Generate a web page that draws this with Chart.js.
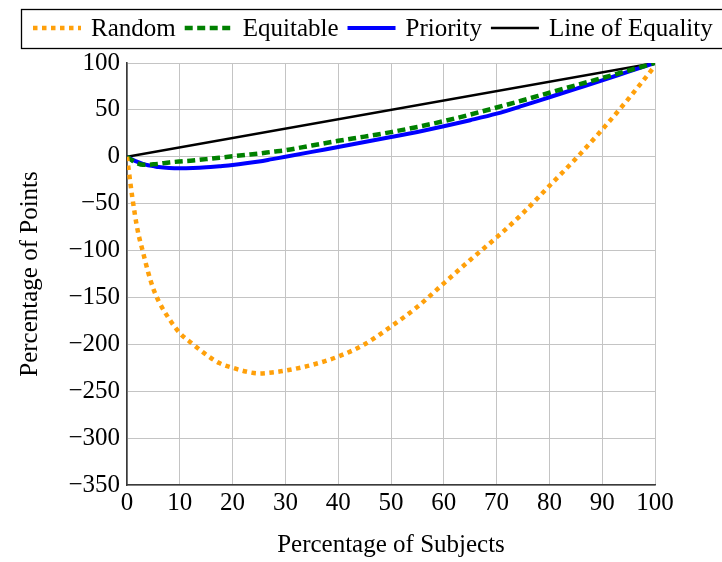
<!DOCTYPE html>
<html>
<head>
<meta charset="utf-8">
<script src="https://cdn.jsdelivr.net/npm/chart.js@4.4.1/dist/chart.umd.min.js"></script>
<style>
	html, body { margin: 0; padding: 0; background: #fff; }
	#chart-box { width: 722px; height: 562px; }
</style>
</head>
<body>
<div id="chart-box"><canvas id="myChart" width="722" height="562"></canvas></div>
<script>
	// Percentage of subjects (x values shared by every curve)
	let subjects = [0, 1, 2, 3, 4, 5, 6, 8, 10, 12.5, 15, 17.5, 20, 22.5, 25, 27.5, 30, 35, 40, 45, 50, 55, 60, 65, 70, 75, 80, 85, 90, 95, 100];

	// Percentage of points for each allocation
	let randomPts    = [0, -43, -78, -101, -123, -141, -154, -173, -188, -200, -211, -220, -225, -229, -231, -230, -228, -222, -213, -200, -181, -160, -135, -110, -86, -60, -31, -2, 29, 62, 97];
	let equitablePts = [0, -4, -7, -8.5, -8.5, -8, -7.5, -6, -5, -4, -2.5, -1, 0.5, 2, 3.5, 5.3, 7, 12, 17, 21.5, 26.3, 31.8, 38, 45, 52.5, 60.3, 68.3, 76.2, 84, 92, 100];
	let priorityPts  = [0, -3, -5.5, -7.5, -9, -10, -11, -12, -12.3, -12, -11.2, -10, -8.7, -7, -5, -2.5, 0, 5.2, 10.5, 15.7, 21, 26.5, 32.5, 39, 46, 54.5, 63.5, 72.5, 81.5, 90.8, 100];
	let equalityPts  = [0, 100];
	let equalityX    = [0, 100];

	// Axis ticks
	let xTicks = [0, 10, 20, 30, 40, 50, 60, 70, 80, 90, 100];
	let yTicks = [100, 50, 0, -50, -100, -150, -200, -250, -300, -350];

	let serif = "'Liberation Serif', 'DejaVu Serif', serif";
	let fontSize = 25;

	function toPoints(xs, ys) {
		return xs.map((x, i) => ({ x: x, y: ys[i] }));
	}

	// Boxed legend across the top, drawn by hand so the line samples keep their dashes
	let boxLegend = {
		id: 'boxLegend',
		afterDraw(chart) {
			let ctx = chart.ctx;
			ctx.save();
			ctx.strokeStyle = '#000';
			ctx.lineWidth = 1.3;
			ctx.strokeRect(21.5, 9.5, 720, 39);
			ctx.font = fontSize + 'px ' + serif;
			ctx.textBaseline = 'middle';
			ctx.fillStyle = '#000';
			let x = 33, y = 28;
			chart.data.datasets.forEach(ds => {
				ctx.beginPath();
				ctx.strokeStyle = ds.borderColor;
				ctx.lineWidth = ds.borderWidth;
				ctx.setLineDash(ds.borderDash || []);
				ctx.moveTo(x, y);
				ctx.lineTo(x + 48, y);
				ctx.stroke();
				ctx.setLineDash([]);
				x += 58;
				ctx.fillText(ds.label, x, y + 1);
				x += ctx.measureText(ds.label).width + 9;
			});
			ctx.restore();
		}
	};

	var ctx = document.getElementById('myChart').getContext('2d');

	var chart = new Chart(ctx, {
		type: 'line',
		data: {
			datasets: [{
				label: 'Random',
				data: toPoints(subjects, randomPts),
				borderColor: '#ffa00a',
				borderWidth: 4.5,
				borderDash: [4.5, 4.5],
				cubicInterpolationMode: 'monotone'
			}, {
				label: 'Equitable',
				data: toPoints(subjects, equitablePts),
				borderColor: '#008000',
				borderWidth: 4.5,
				borderDash: [8, 4.5],
				cubicInterpolationMode: 'monotone'
			}, {
				label: 'Priority',
				data: toPoints(subjects, priorityPts),
				borderColor: '#0000ff',
				borderWidth: 4,
				cubicInterpolationMode: 'monotone'
			}, {
				label: 'Line of Equality',
				data: toPoints(equalityX, equalityPts),
				borderColor: '#000',
				borderWidth: 2.5
			}]
		},
		options: {
			responsive: false,
			animation: false,
			elements: { point: { radius: 0 } },
			layout: { padding: { top: 63, right: 67, left: 0, bottom: 0 } },
			plugins: {
				legend: { display: false },
				tooltip: { enabled: false }
			},
			scales: {
				x: {
					type: 'linear',
					min: 0,
					max: 100,
					afterBuildTicks: axis => { axis.ticks = xTicks.map(v => ({ value: v })); },
					afterFit: axis => { axis.height = 77; },
					grid: { color: '#c4c4c4', lineWidth: 1, drawTicks: false },
					border: { color: '#3a3a3a', width: 1.6 },
					ticks: { color: '#000', padding: 3, maxRotation: 0, font: { family: serif, size: fontSize } },
					title: { display: true, text: 'Percentage of Subjects', color: '#000', padding: { top: 0, bottom: 2 }, font: { family: serif, size: fontSize } }
				},
				y: {
					min: -350,
					max: 100,
					afterBuildTicks: axis => { axis.ticks = yTicks.map(v => ({ value: v })); },
					afterFit: axis => { axis.width = 127; },
					grid: { color: '#c4c4c4', lineWidth: 1, drawTicks: false },
					border: { color: '#3a3a3a', width: 1.6 },
					ticks: {
						color: '#000',
						padding: 7,
						font: { family: serif, size: fontSize },
						callback: v => String(v).replace('-', '\u2212')
					},
					title: { display: true, text: 'Percentage of Points', color: '#000', padding: { top: 15, bottom: 0 }, font: { family: serif, size: fontSize } }
				}
			}
		},
		plugins: [boxLegend]
	});
</script>
</body>
</html>
